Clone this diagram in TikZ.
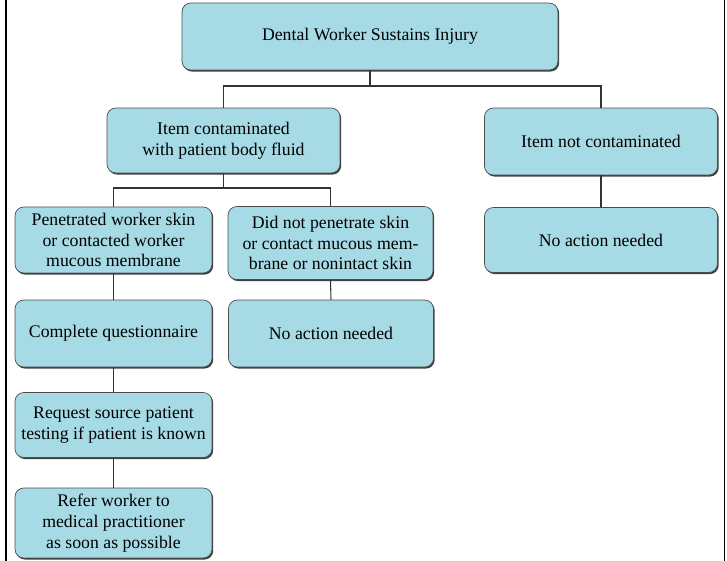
\documentclass[tikz,border=0pt]{standalone}
\usepackage{fontspec}
\setmainfont{Liberation Serif}
\usetikzlibrary{shadows}
\definecolor{boxcyan}{RGB}{166,219,230}
\tikzset{
  flowbox/.style={draw=black!70, fill=boxcyan, rounded corners=5pt, align=center,
    inner sep=2pt, font=\fontsize{10.1}{11.9}\selectfont,
    drop shadow={shadow xshift=0.7pt, shadow yshift=-0.9pt, fill=black!75, opacity=1}},
  link/.style={draw=black!80, line width=0.6pt},
}

\begin{document}
\begin{tikzpicture}[x=0.02cm, y=-0.02cm]
    \useasboundingbox (0,0) rectangle (727,561);
    % page rules
    \draw[line width=1pt] (6,0) -- (6,561);
    \draw[line width=1pt] (724.5,0) -- (724.5,561);

    % Boxes
    \node[flowbox, minimum width=7.52cm, minimum height=1.34cm] (injury) at (370,36.5) {Dental Worker Sustains Injury};
    \node[flowbox, minimum width=4.66cm, minimum height=1.3cm] (contam) at (223.5,140.5) {Item contaminated\\with patient body fluid};
    \node[flowbox, minimum width=4.66cm, minimum height=1.34cm] (notcontam) at (601,141.5) {Item not contaminated};
    \node[flowbox, minimum width=3.94cm, minimum height=1.32cm] (pen) at (113.5,240) {Penetrated worker skin\\or contacted worker\\mucous membrane};
    \node[flowbox, minimum width=4.1cm, minimum height=1.46cm] (nopen) at (330.5,243) {Did not penetrate skin\\or contact mucous mem-\\brane or nonintact skin};
    \node[flowbox, minimum width=4.66cm, minimum height=1.3cm] (noact2) at (601,240) {No action needed};
    \node[flowbox, minimum width=3.94cm, minimum height=1.34cm] (quest) at (113.5,333.5) {Complete questionnaire};
    \node[flowbox, minimum width=4.1cm, minimum height=1.34cm] (noact1) at (331,333.5) {No action needed};
    \node[flowbox, minimum width=3.94cm, minimum height=1.3cm] (request) at (113.5,425) {Request source patient\\testing if patient is known};
    \node[flowbox, minimum width=3.94cm, minimum height=1.4cm] (refer) at (113.5,523) {Refer worker to\\medical practitioner\\as soon as possible};

    % Connectors
    \coordinate (j1) at (370,86);
    \coordinate (j2) at (223.5,188);
    \draw[link] (injury.south) -- (j1);
    \draw[link] (contam.north) |- (j1) -| (notcontam.north);
    \draw[link] (contam.south) -- (j2);
    \draw[link] (pen.north) |- (j2) -| (nopen.north);
    \draw[link] (notcontam.south) -- (noact2.north);
    \draw[link] (nopen.south) -- (noact1.north);
    \draw[link] (pen.south) -- (quest.north);
    \draw[link] (quest.south) -- (request.north);
    \draw[link] (request.south) -- (refer.north);
\end{tikzpicture}
\end{document}
